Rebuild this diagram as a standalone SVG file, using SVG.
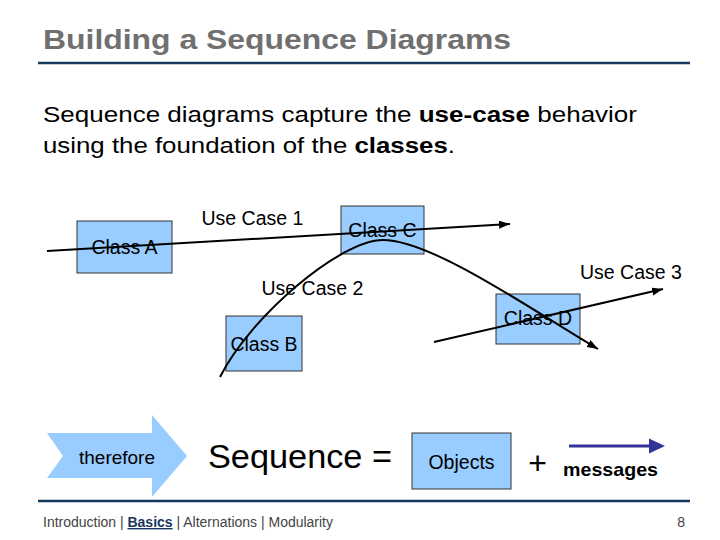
<svg xmlns="http://www.w3.org/2000/svg" width="720" height="540" viewBox="0 0 720 540">
  <style>
    text { font-family: "Liberation Sans", Arial, sans-serif; }
    .title { font-size: 28.5px; font-weight: bold; fill: #707070; }
    .body { font-size: 22px; fill: #000; }
    .box { fill: #99ccff; stroke: #333; stroke-width: 1; }
    .lbl { font-size: 19.5px; fill: #000; }
    .conn { fill: none; stroke: #000; stroke-width: 2; }
    .rule { stroke: #17375e; stroke-width: 2.5; }
    .foot { font-size: 14px; fill: #444; }
  </style>
  <defs>
    <marker id="ah" markerUnits="userSpaceOnUse" markerWidth="12" markerHeight="10" refX="11" refY="4" orient="auto">
      <path d="M0,0 L11,4 L0,8 Z" fill="#000"/>
    </marker>
  </defs>

  <rect width="720" height="540" fill="#fff"/>

  <g id="header">
    <text class="title" x="43" y="48.5" textLength="468" lengthAdjust="spacingAndGlyphs">Building a Sequence Diagrams</text>
    <line class="rule" x1="38" y1="63" x2="690" y2="63"/>
    <text class="body" x="43" y="122" textLength="594" lengthAdjust="spacingAndGlyphs">Sequence diagrams capture the <tspan font-weight="bold">use-case</tspan> behavior</text>
    <text class="body" x="43" y="153" textLength="412" lengthAdjust="spacingAndGlyphs">using the foundation of the <tspan font-weight="bold">classes</tspan>.</text>
  </g>

  <g id="classA">
    <rect class="box" x="77" y="221" width="95" height="52"/>
    <text class="lbl" x="124.5" y="254" text-anchor="middle">Class A</text>
  </g>
  <g id="classC">
    <rect class="box" x="341" y="206" width="83" height="48"/>
    <text class="lbl" x="382.5" y="237" text-anchor="middle">Class C</text>
  </g>
  <g id="classB">
    <rect class="box" x="226" y="316" width="76" height="55"/>
    <text class="lbl" x="264" y="350.5" text-anchor="middle">Class B</text>
  </g>
  <g id="classD">
    <rect class="box" x="496" y="294" width="84" height="50"/>
    <text class="lbl" x="538" y="325" text-anchor="middle">Class D</text>
  </g>

  <g id="connectors">
    <line class="conn" x1="47" y1="251" x2="510" y2="224" marker-end="url(#ah)"/>
    <path class="conn" d="M220,377 C250,317 340,240 383,240 C433,240 538,314 598,349" marker-end="url(#ah)"/>
    <line class="conn" x1="434" y1="342" x2="663" y2="289" marker-end="url(#ah)"/>
  </g>

  <g id="labels">
    <text class="lbl" x="201.5" y="225">Use Case 1</text>
    <text class="lbl" x="261.5" y="294.5">Use Case 2</text>
    <text class="lbl" x="580" y="278.5">Use Case 3</text>
  </g>

  <g id="therefore">
    <polygon points="47,433 152,433 152,415 187,456 152,497 152,478 47,478 63,456" fill="#99ccff"/>
    <text x="117" y="463.5" font-size="19px" text-anchor="middle" fill="#000">therefore</text>
  </g>

  <g id="equation">
    <text x="208" y="468" font-size="34px" fill="#000" textLength="184" lengthAdjust="spacingAndGlyphs">Sequence =</text>
  </g>

  <g id="objects">
    <rect class="box" x="412" y="433" width="99" height="56"/>
    <text x="461.5" y="468.5" font-size="19.5px" text-anchor="middle" fill="#000">Objects</text>
  </g>

  <g id="plus">
    <text x="537.5" y="474" font-size="32px" text-anchor="middle" fill="#000">+</text>
  </g>

  <g id="messages">
    <line x1="569" y1="446" x2="651" y2="446" stroke="#333399" stroke-width="3"/>
    <polygon points="649,438.5 665,446 649,453.5" fill="#333399"/>
    <text x="563" y="476" font-size="19px" font-weight="bold" fill="#000" textLength="95" lengthAdjust="spacingAndGlyphs">messages</text>
  </g>

  <g id="footer">
    <line class="rule" x1="38" y1="501" x2="690" y2="501"/>
    <text class="foot" x="43" y="527" textLength="290" lengthAdjust="spacingAndGlyphs">Introduction | <tspan font-weight="bold" fill="#17375e" text-decoration="underline">Basics</tspan> | Alternations | Modularity</text>
    <text class="foot" x="685" y="527" text-anchor="end">8</text>
  </g>
</svg>
